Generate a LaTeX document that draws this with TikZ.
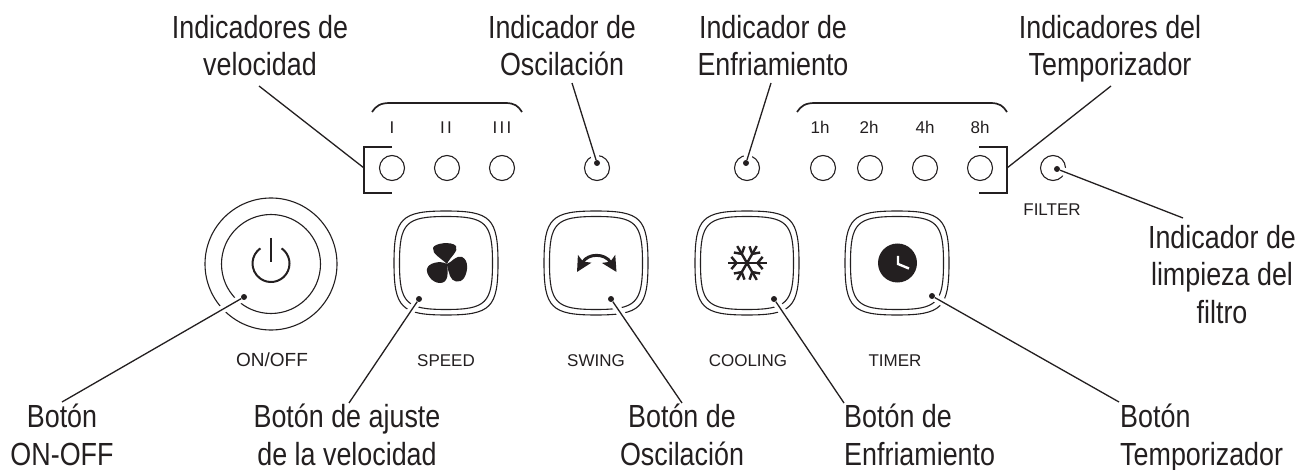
\documentclass[tikz,border=0pt]{standalone}
\usepackage{fontspec}
\setmainfont{Liberation Sans}
\newfontfamily\calloutfont[FakeStretch=0.84]{Liberation Sans}
\usetikzlibrary{calc,arrows.meta}
\definecolor{inkblack}{HTML}{231F20}

\tikzset{
    calltag/.style={font=\calloutfont\fontsize{32}{37.5}\selectfont, text=inkblack, inner sep=0pt, anchor=base, align=center},
    smalltag/.style={font=\fontsize{17}{20}\selectfont, text=inkblack, inner sep=0pt, anchor=base},
    led/.style={circle, draw=inkblack, line width=1.1pt, minimum size=25pt, inner sep=0pt},
    pindot/.style={circle, fill=inkblack, minimum size=6pt, inner sep=0pt},
    leader/.style={draw=inkblack, line width=1.3pt, preaction={draw=white, line width=8pt}},
    bracketline/.style={draw=inkblack, line width=1.7pt},
    softbtn/.pic={
        \foreach \r in {52,46.5} {
            \pgfmathsetmacro{\kk}{0.86*\r}
            \draw[inkblack, line width=1.1pt] (-\r,0)
                .. controls (-\r,-\kk) and (-\kk,-\r) .. (0,-\r)
                .. controls (\kk,-\r) and (\r,-\kk) .. (\r,0)
                .. controls (\r,\kk) and (\kk,\r) .. (0,\r)
                .. controls (-\kk,\r) and (-\r,\kk) .. (-\r,0) -- cycle;
        }
    }
}

\begin{document}
\begin{tikzpicture}[x=1pt,y=-1pt]
\useasboundingbox (0,0) rectangle (1300,470);

% On/off button
\draw[inkblack, line width=1.1pt] (271,264) circle[radius=66];
\draw[inkblack, line width=1.1pt] (271,264) circle[radius=49.5];
\draw[inkblack, line width=2pt] (271,263.5) ++(-55:18.5) arc (-55:235:18.5);
\draw[inkblack, line width=2pt] (271,238) -- (271,262);

% Square buttons
\foreach \x in {446,596,747,897} {
    \pic at (\x,263) {softbtn};
}

% Fan icon
\fill[inkblack] (447,264) .. controls (441,258) and (432,254) .. (433,248)
    .. controls (434,243) and (452,241) .. (456,246)
    .. controls (459,251) and (450,257) .. (447,264) -- cycle;
\fill[inkblack] (447,264) .. controls (448,272) and (449,283) .. (440,283)
    .. controls (432,283) and (426,274) .. (427,269)
    .. controls (428,263) and (440,260) .. (447,264) -- cycle;
\fill[inkblack] (447,264) .. controls (452,262) and (456,255) .. (462,257)
    .. controls (469,260) and (468,272) .. (464,278)
    .. controls (460,284) and (452,282) .. (450,276)
    .. controls (449,272) and (447,268) .. (447,264) -- cycle;

% Swing icon
\draw[inkblack, line width=3pt, {Stealth[length=15pt,width=15pt,inset=3pt]}-{Stealth[length=15pt,width=15pt,inset=3pt]}]
    (577,272) .. controls (588,253) and (605,253) .. (616.5,272);

% Snowflake icon
\foreach \a in {0,60,...,300} {
    \begin{scope}[shift={(747,263)}, rotate=\a]
        \draw[inkblack, line width=2.4pt] (0,0) -- (19.5,0);
        \draw[inkblack, line width=2.4pt] (10.5,0) -- ++(50:8);
        \draw[inkblack, line width=2.4pt] (10.5,0) -- ++(-50:8);
    \end{scope}
}

% Clock icon
\fill[inkblack] (897.5,263) circle[radius=19.5];
\draw[white, line width=2.4pt] (898,256) -- (898,264) -- (909,268.5);

% Indicator lights
\foreach \name/\x in {I/392,II/447,III/502,Osc/597,Cool/747,Ah/823,Bh/870,Ch/925,Dh/980,Filt/1053} {
    \node[led] (led\name) at (\x,168) {};
}

% Pin dots on the parts
\node[pindot] (pinOnoff) at (244,297) {};
\node[pindot] (pinSpeed) at (419,299) {};
\node[pindot] (pinSwing) at (611,299) {};
\node[pindot] (pinCool) at (774,299) {};
\node[pindot] (pinTimer) at (932,296) {};
\node[pindot] (pinOsc) at (597,163) {};
\node[pindot] (pinFan) at (746,163) {};
\node[pindot] (pinFilt) at (1057,169) {};

% Free ends of the leaders
\coordinate (endVel) at (259,86);
\coordinate (endOsc) at (572,83);
\coordinate (endFan) at (771,83);
\coordinate (endTim) at (1111,86);
\coordinate (endFilt) at (1183,218);
\coordinate (endOnoff) at (62,402);
\coordinate (endSpeed) at (349,403);
\coordinate (endSwing) at (682,403);
\coordinate (endCool) at (844,403);
\coordinate (endTimer) at (1119,402);
\coordinate (brkVel) at (364,168);
\coordinate (brkTim) at (1007,168);

% Leaders
\draw[leader] (endVel) -- (brkVel);
\draw[leader] (endTim) -- (brkTim);
\draw[leader] (endOsc) -- (pinOsc);
\draw[leader] (endFan) -- (pinFan);
\draw[leader] (endFilt) -- (pinFilt);
\draw[leader] (endOnoff) -- (pinOnoff);
\draw[leader] (endSpeed) -- (pinSpeed);
\draw[leader] (endSwing) -- (pinSwing);
\draw[leader] (endCool) -- (pinCool);
\draw[leader] (endTimer) -- (pinTimer);

% Brackets round the first and last light
\draw[bracketline] (392,147) -| (brkVel) |- (392,193);
\draw[bracketline] (979,147) -| (brkTim) |- (979,193);

% Braces over the light groups
\draw[bracketline] (372,112) .. controls (376,106) and (380,103) .. (390,103)
    -- (505,103) .. controls (515,103) and (518,106) .. (522,112);
\draw[bracketline] (797,112) .. controls (801,106) and (805,103) .. (815,103)
    -- (990,103) .. controls (1000,103) and (1003,106) .. (1007,112);

% Small panel labels
\node[smalltag] (markI) at (392,134) {I};
\node[smalltag] (markII) at (446,134) {I\kern2.2pt I};
\node[smalltag] (markIII) at (502,134) {I\kern2.2pt I\kern2.2pt I};
\foreach \name/\x/\txt in {Ah/820/1h,Bh/869/2h,Ch/925/4h,Dh/980/8h} {
    \node[smalltag] (mark\name) at (\x,134) {\txt};
}
\node[smalltag] (markFilter) at (1052,216) {FILTER};
\node[smalltag, font=\fontsize{19}{20}\selectfont] (markOnoff) at (272,366) {ON/OFF};
\node[smalltag] (markSpeed) at (446,366) {SPEED};
\node[smalltag] (markSwing) at (596,366) {SWING};
\node[smalltag] (markCooling) at (748,366) {COOLING};
\node[smalltag] (markTimer) at (895,366) {TIMER};

% Callouts on top
\node[calltag] (tagVel) at (260,76) {Indicadores de\\velocidad};
\node[calltag] (tagOsc) at (562,76) {Indicador de\\Oscilación};
\node[calltag] (tagFan) at (773,76) {Indicador de\\Enfriamiento};
\node[calltag] (tagTim) at (1110,76) {Indicadores del\\Temporizador};
\node[calltag] (tagFilt) at (1222,323) {Indicador de\\limpieza del\\filtro};

% Callouts below
\node[calltag] (tagOnoff) at (62,465) {Botón\\ON-OFF};
\node[calltag] (tagSpeed) at (347,465) {Botón de ajuste\\de la velocidad};
\node[calltag] (tagSwing) at (682,465) {Botón de\\Oscilación};
\node[calltag, anchor=base west, align=left] (tagCool) at (844,465) {Botón de\\Enfriamiento};
\node[calltag, anchor=base west, align=left] (tagTimer) at (1120,465) {Botón\\Temporizador};

\end{tikzpicture}
\end{document}
